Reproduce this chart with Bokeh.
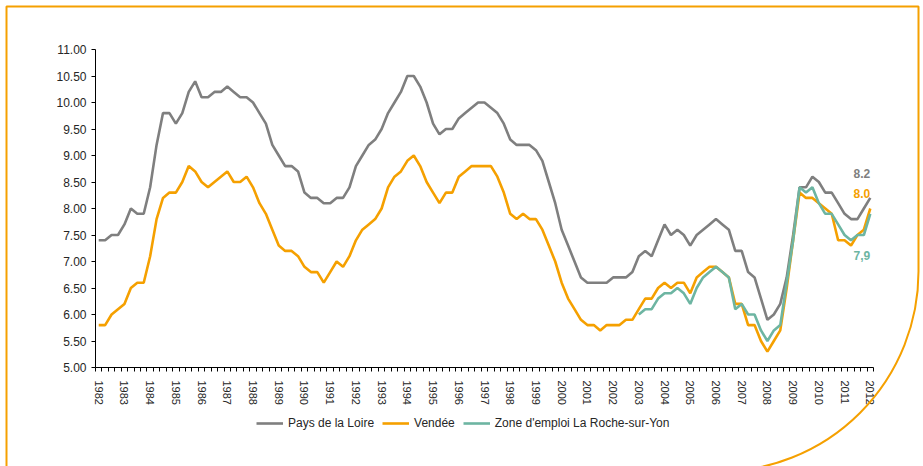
from bokeh.plotting import figure
from bokeh.models import (Range1d, FixedTicker, NumeralTickFormatter, Legend,
                          LegendItem, BoxAnnotation)
from bokeh.core.properties import value
from bokeh.embed import file_html
from bokeh.resources import INLINE

# ---- data (quarterly, 1982 Q1 .. 2012 Q1) ----
years = [str(y) for y in range(1982, 2013)]

pays_de_la_loire = [
    7.4, 7.4, 7.5, 7.5, 7.7, 8.0, 7.9, 7.9, 8.4, 9.2,
    9.8, 9.8, 9.6, 9.8, 10.2, 10.4, 10.1, 10.1, 10.2, 10.2,
    10.3, 10.2, 10.1, 10.1, 10.0, 9.8, 9.6, 9.2, 9.0, 8.8,
    8.8, 8.7, 8.3, 8.2, 8.2, 8.1, 8.1, 8.2, 8.2, 8.4,
    8.8, 9.0, 9.2, 9.3, 9.5, 9.8, 10.0, 10.2, 10.5, 10.5,
    10.3, 10.0, 9.6, 9.4, 9.5, 9.5, 9.7, 9.8, 9.9, 10.0,
    10.0, 9.9, 9.8, 9.6, 9.3, 9.2, 9.2, 9.2, 9.1, 8.9,
    8.5, 8.1, 7.6, 7.3, 7.0, 6.7, 6.6, 6.6, 6.6, 6.6,
    6.7, 6.7, 6.7, 6.8, 7.1, 7.2, 7.1, 7.4, 7.7, 7.5,
    7.6, 7.5, 7.3, 7.5, 7.6, 7.7, 7.8, 7.7, 7.6, 7.2,
    7.2, 6.8, 6.7, 6.3, 5.9, 6.0, 6.2, 6.7, 7.5, 8.4,
    8.4, 8.6, 8.5, 8.3, 8.3, 8.1, 7.9, 7.8, 7.8, 8.0, 8.2,
]

vendee = [
    5.8, 5.8, 6.0, 6.1, 6.2, 6.5, 6.6, 6.6, 7.1, 7.8,
    8.2, 8.3, 8.3, 8.5, 8.8, 8.7, 8.5, 8.4, 8.5, 8.6,
    8.7, 8.5, 8.5, 8.6, 8.4, 8.1, 7.9, 7.6, 7.3, 7.2,
    7.2, 7.1, 6.9, 6.8, 6.8, 6.6, 6.8, 7.0, 6.9, 7.1,
    7.4, 7.6, 7.7, 7.8, 8.0, 8.4, 8.6, 8.7, 8.9, 9.0,
    8.8, 8.5, 8.3, 8.1, 8.3, 8.3, 8.6, 8.7, 8.8, 8.8,
    8.8, 8.8, 8.6, 8.3, 7.9, 7.8, 7.9, 7.8, 7.8, 7.6,
    7.3, 7.0, 6.6, 6.3, 6.1, 5.9, 5.8, 5.8, 5.7, 5.8,
    5.8, 5.8, 5.9, 5.9, 6.1, 6.3, 6.3, 6.5, 6.6, 6.5,
    6.6, 6.6, 6.4, 6.7, 6.8, 6.9, 6.9, 6.8, 6.7, 6.2,
    6.2, 5.8, 5.8, 5.5, 5.3, 5.5, 5.7, 6.5, 7.4, 8.3,
    8.2, 8.2, 8.1, 8.0, 7.9, 7.4, 7.4, 7.3, 7.5, 7.6, 8.0,
]

# Zone d'emploi La Roche-sur-Yon: available from 2003 Q1
zone_start_year = 2003
zone_roche = [
    6.0, 6.1, 6.1, 6.3, 6.4, 6.4,
    6.5, 6.4, 6.2, 6.5, 6.7, 6.8, 6.9, 6.8, 6.7, 6.1,
    6.2, 6.0, 6.0, 5.7, 5.5, 5.7, 5.8, 6.6, 7.4, 8.4,
    8.3, 8.4, 8.1, 7.9, 7.9, 7.7, 7.5, 7.4, 7.5, 7.5, 7.9,
]

series_names = ["Pays de la Loire", "Vendée", "Zone d'emploi La Roche-sur-Yon"]
end_labels = ["8.2", "8.0", "7,9"]
y_min, y_max = 5.0, 11.0
y_ticks = [y_min + 0.5 * k for k in range(13)]

GRAY = "#7f7f7f"
ORANGE = "#f5a000"
TEAL = "#6db5a2"
TXT = "#262626"
FONT = "Liberation Sans"

# ---- layout (pixels on the canvas) ----
W, H = 923, 466
PX_LEFT, PX_RIGHT, PX_TOP, PX_BOTTOM = 95, 873, 49, 367

n = len(pays_de_la_loire)
x_all = list(range(n))
zone_offset = (zone_start_year - int(years[0])) * 4
x_zone = [zone_offset + i for i in range(len(zone_roche))]

ux = (PX_RIGHT - PX_LEFT) / n
uy = (PX_BOTTOM - PX_TOP) / (y_max - y_min)
x_lo, x_hi = -0.5, n - 0.5
x_range = Range1d(x_lo - PX_LEFT / ux, x_hi + (W - PX_RIGHT) / ux)
y_range = Range1d(y_min - (H - PX_BOTTOM) / uy, y_max + PX_TOP / uy)

p = figure(width=W, height=H, output_backend="svg", toolbar_location=None,
           x_range=x_range, y_range=y_range,
           background_fill_color="white", border_fill_color="white")
p.min_border_left = 0
p.min_border_right = 0
p.min_border_top = 0
p.min_border_bottom = 0
p.outline_line_color = None
p.xgrid.visible = False
p.ygrid.visible = False

r1 = p.line(x_all, pays_de_la_loire, line_color=GRAY, line_width=2.6)
r2 = p.line(x_all, vendee, line_color=ORANGE, line_width=2.6)
r3 = p.line(x_zone, zone_roche, line_color=TEAL, line_width=2.6)

# end-of-series labels
p.text(x=[x_all[-1]], y=[pays_de_la_loire[-1]], text=[end_labels[0]],
       y_offset=-24, text_align="right", text_baseline="middle",
       text_color=GRAY, text_font_style="bold", text_font_size="12px",
       text_font=value(FONT))
p.text(x=[x_all[-1]], y=[vendee[-1]], text=[end_labels[1]],
       y_offset=-15, text_align="right", text_baseline="middle",
       text_color=ORANGE, text_font_style="bold", text_font_size="12px",
       text_font=value(FONT))
p.text(x=[x_zone[-1]], y=[zone_roche[-1]], text=[end_labels[2]],
       y_offset=42, text_align="right", text_baseline="middle",
       text_color=TEAL, text_font_style="bold", text_font_size="12px",
       text_font=value(FONT))

# y axis (drawn at the left edge of the data area)
ya = p.yaxis[0]
ya.fixed_location = x_lo
ya.bounds = (y_min, y_max)
ya.ticker = FixedTicker(ticks=y_ticks)
ya.formatter = NumeralTickFormatter(format="0.00")
ya.axis_line_color = "black"
ya.major_tick_line_color = "black"
ya.major_tick_in = 0
ya.major_tick_out = 4
ya.minor_tick_line_color = None
ya.major_label_standoff = 5
ya.major_label_text_font = FONT
ya.major_label_text_font_size = "12px"
ya.major_label_text_color = TXT

# x axis (drawn at y = 5.00)
xa = p.xaxis[0]
xa.fixed_location = y_min
xa.bounds = (x_lo, x_hi)
major = [i * 4 for i in range(len(years))]
xa.ticker = FixedTicker(ticks=major, minor_ticks=[i - 0.5 for i in range(n + 1)])
xa.major_label_overrides = {m: y for m, y in zip(major, years)}
xa.major_label_orientation = "vertical"
xa.axis_line_color = "black"
xa.major_tick_in = 0
xa.major_tick_out = 0
xa.minor_tick_in = 0
xa.minor_tick_out = 4
xa.minor_tick_line_color = "black"
xa.major_label_standoff = 9
xa.major_label_text_font = FONT
xa.major_label_text_font_size = "11px"
xa.major_label_text_color = TXT

legend = Legend(items=[LegendItem(label=series_names[0], renderers=[r1]),
                       LegendItem(label=series_names[1], renderers=[r2]),
                       LegendItem(label=series_names[2], renderers=[r3])],
                orientation="horizontal", location=(256, 33),
                border_line_color=None, background_fill_alpha=0,
                label_text_font=FONT, label_text_font_size="12px",
                label_text_color=TXT, glyph_width=27, glyph_height=20,
                label_standoff=5, spacing=8, padding=0, margin=0)
p.add_layout(legend, "center")

# orange page frame with rounded bottom-right corner
frame = BoxAnnotation(left=6, right=918, top=6, bottom=471,
                      left_units="canvas", right_units="canvas",
                      top_units="canvas", bottom_units="canvas",
                      fill_alpha=0, line_color=ORANGE, line_alpha=1.0,
                      line_width=2, border_radius=(0, 0, 200, 0),
                      level="overlay")
p.add_layout(frame)

open("out.html", "w").write(file_html(p, INLINE))
